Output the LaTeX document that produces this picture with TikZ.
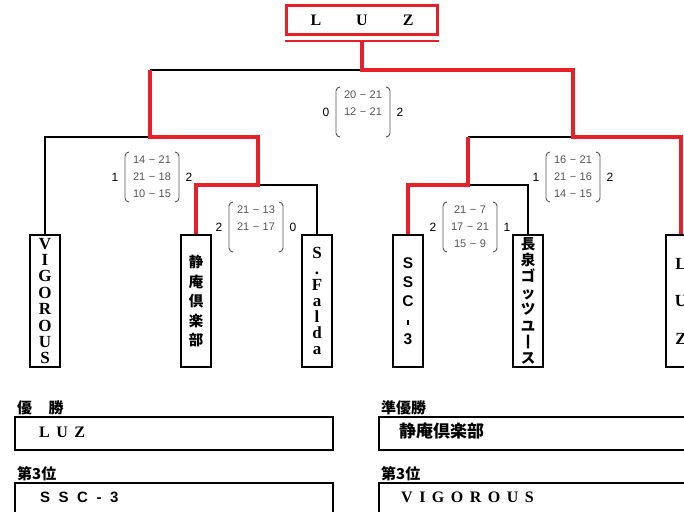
\documentclass[tikz,border=0pt]{standalone}
\usepackage{fontspec}
\setmainfont{Liberation Serif}
\newfontfamily\sansf{Liberation Sans}
\newfontfamily\cjk{Noto Sans CJK JP}
\definecolor{winred}{HTML}{E8202A}
\definecolor{scoregray}{HTML}{555555}
\tikzset{
  blk/.style={line width=1.9pt, black},
  rd/.style={line width=3.4pt, winred},
  teambox/.style={draw, line width=2pt, minimum width=30pt, minimum height=132pt,
    inner sep=0pt, align=center},
  latinv/.style={font=\bfseries\fontsize{17}{#1}\selectfont},
  bracket/.style={scoregray, line width=0.9pt, rounded corners=4pt},
  sc/.style={scoregray, font=\sansf\fontsize{11}{12}\selectfont, inner sep=0pt},
  num/.style={font=\sansf\fontsize{12}{13}\selectfont, inner sep=0pt},
  resbox/.style={draw, line width=1.6pt, anchor=north west, inner sep=0pt},
  lab/.style={font=\cjk\bfseries\fontsize{15}{16}\selectfont, anchor=base west, inner sep=0pt},
  restext/.style={anchor=west, inner sep=0pt}
}
\newcommand\dsh{\hspace{3.5pt}−\hspace{3.5pt}}
% score block: #1 name, #2 cx, #3 cy, #4 left num, #5 right num, #6 #7 #8 rows
\newcommand\scoreblk[8]{%
  \draw[bracket] ({#2-23},{#3-25}) -- ({#2-27},{#3-25}) -- ({#2-27},{#3+25}) -- ({#2-23},{#3+25});
  \draw[bracket] ({#2+23},{#3-25}) -- ({#2+27},{#3-25}) -- ({#2+27},{#3+25}) -- ({#2+23},{#3+25});
  \node[num] (#1-l) at ({#2-37},#3) {#4};
  \node[num] (#1-r) at ({#2+37},#3) {#5};
  \node[sc] (#1-a) at (#2,{#3-17}) {#6};
  \node[sc] (#1-b) at (#2,#3) {#7};
  \node[sc] (#1-c) at (#2,{#3+17}) {#8};
}
\begin{document}
\begin{tikzpicture}[x=1pt,y=-1pt]
\useasboundingbox (0,0) rectangle (684,511);
\clip (0,0) rectangle (684,511);

% champion box
\node[draw=winred, line width=3.3pt, minimum width=150.7pt, minimum height=28.8pt,
      inner sep=0pt, font=\bfseries\fontsize{16}{18}\selectfont] (champ) at (362,20)
      {L\hspace{35pt}U\hspace{35pt}Z};
\draw[winred, line width=1.4pt] ([yshift=-5pt]champ.south west) -- ([yshift=-5pt]champ.south east);

% team boxes
\node[teambox, latinv=16.4] (t1) at (45,301) {V\\I\\G\\O\\R\\O\\U\\S};
\node[teambox, font=\cjk\bfseries\fontsize{14.5}{19.5}\selectfont] (t2) at (196,301) {静\\庵\\倶\\楽\\部};
\node[teambox, latinv=16] (t3) at (317,301) {S\\.\\F\\a\\l\\d\\a};
\node[teambox, font=\sansf\bfseries\fontsize{15.5}{19}\selectfont] (t4) at (408,301) {S\\S\\C\\\rule{1.8pt}{5pt}\\3};
\node[teambox, font=\cjk\bfseries\fontsize{14.5}{16.4}\selectfont] (t5) at (528,301) {長\\泉\\ゴ\\ッ\\ツ\\ユ\\丨\\ス};
\node[teambox, latinv=37.5] (t6) at (681,301) {L\\U\\Z};

% junctions
\coordinate (qL) at (258,185);
\coordinate (qR) at (468,185);
\coordinate (sL) at (150,137);
\coordinate (sR) at (573,137);
\coordinate (fC) at (362,70);

% black (losing) lines
\draw[blk] (t1.north) |- (sL);
\draw[blk] (t3.north) |- (qL);
\draw[blk] (t5.north) |- (qR);
\draw[blk] (sL |- fC) -- (fC);
\draw[blk] (qR |- sR) -- (sR);

% red (winning) lines
\draw[rd] (t2.north) |- (qL) -- (qL |- sL) -- (sL) -- (sL |- fC);
\draw[rd] (t4.north) |- (qR) -- (qR |- sR);
\draw[rd] (t6.north) |- (sR) -- (sR |- fC) -- (fC) -- ([yshift=-5pt]champ.south);

% scores
\scoreblk{fin}{363}{112}{0}{2}{20\dsh21}{12\dsh21}{}
\scoreblk{sfl}{152}{177}{1}{2}{14\dsh21}{21\dsh18}{10\dsh15}
\scoreblk{qfl}{256}{227}{2}{0}{21\dsh13}{21\dsh17}{}
\scoreblk{qfr}{470}{227}{2}{1}{21\dsh7}{17\dsh21}{15\dsh9}
\scoreblk{sfr}{573}{177}{1}{2}{16\dsh21}{21\dsh16}{14\dsh15}

% results
\node[lab] (l1) at (17,413) {優\hspace{1.1em}勝};
\node[lab] (l2) at (381,413) {準優勝};
\node[lab] (l3) at (17,479) {第3位};
\node[lab] (l4) at (381,479) {第3位};
\node[resbox, minimum width=318pt, minimum height=33pt] (b1) at (14,416) {};
\node[resbox, minimum width=318pt, minimum height=40pt] (b3) at (14,482) {};
\node[resbox, minimum width=320pt, minimum height=33pt] (b2) at (378,416) {};
\node[resbox, minimum width=320pt, minimum height=40pt] (b4) at (378,482) {};
\node[restext, font=\bfseries\fontsize{16}{18}\selectfont] (r1) at (39,432) {L\hspace{6.5pt}U\hspace{6.5pt}Z};
\node[restext, font=\cjk\bfseries\fontsize{17}{19}\selectfont] (r2) at (399,431) {静庵倶楽部};
\node[restext, font=\sansf\bfseries\fontsize{15}{17}\selectfont] (r3) at (40,497) {S\hspace{8.5pt}S\hspace{8.5pt}C\hspace{8.5pt}-\hspace{8.5pt}3};
\node[restext, font=\bfseries\fontsize{16}{18}\selectfont] (r4) at (401,497) {V\hspace{6.5pt}I\hspace{6.5pt}G\hspace{6.5pt}O\hspace{6.5pt}R\hspace{6.5pt}O\hspace{6.5pt}U\hspace{6.5pt}S};
\end{tikzpicture}
\end{document}
